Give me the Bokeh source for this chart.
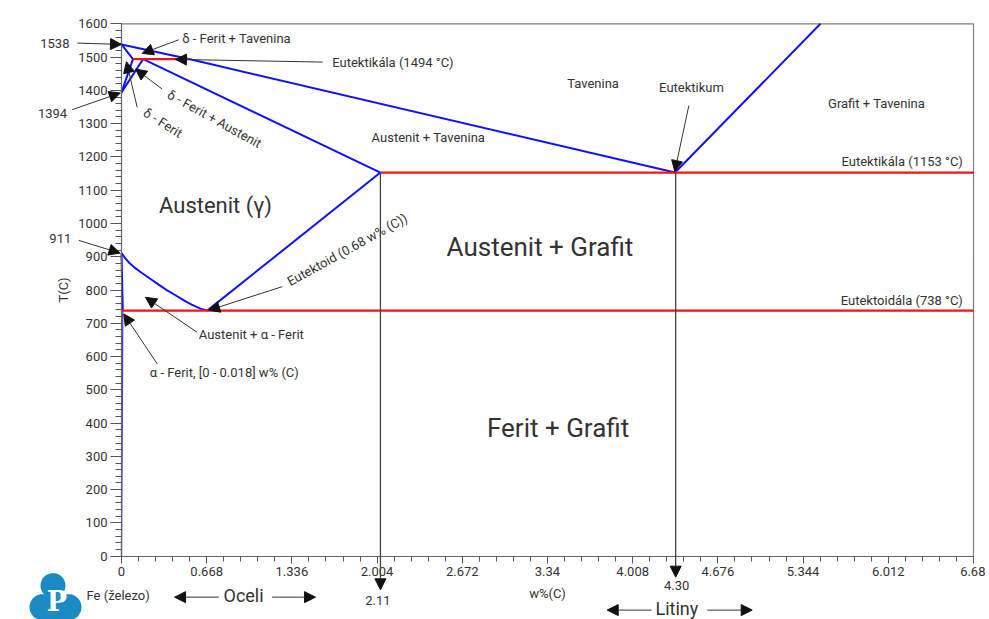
import math
from bokeh.plotting import figure
from bokeh.models import (Range1d, FixedTicker, Label, Arrow, NormalHead, PolyAnnotation,
                          LinearAxis)
from bokeh.embed import file_html
from bokeh.resources import INLINE

# ---------------- data (w% C, temperature °C) ----------------
liquidus_x = [0.0, 0.53, 4.34]
liquidus_t = [1538, 1494, 1153]
delta_solidus_x = [0.0, 0.09]
delta_solidus_t = [1538, 1494]
delta_solvus_x = [0.0, 0.09]
delta_solvus_t = [1394, 1494]
gamma_delta_x = [0.0, 0.17]
gamma_delta_t = [1394, 1494]
aust_solidus_x = [0.17, 2.03]
aust_solidus_t = [1494, 1153]
acm_x = [0.672, 2.03]
acm_t = [738, 1153]
a3_x = [0.0, 0.03, 0.06, 0.1, 0.16, 0.228, 0.3, 0.358, 0.42, 0.489, 0.55, 0.62, 0.672]
a3_t = [911, 895, 882, 868, 851, 833, 814, 799, 785, 769, 756, 744, 738]
alpha_upper_x = [0.0, 0.01]
alpha_upper_t = [911, 738]
alpha_lower_x = [0.01, 0.006, 0.0]
alpha_lower_t = [738, 400, 0]
graphite_liq_x = [4.34, 5.48]
graphite_liq_t = [1153, 1600]

peritectic_x = [0.09, 0.53]
peritectic_t = [1494, 1494]
eutectic_x = [2.03, 6.68]
eutectic_t = [1153, 1153]
eutectoid_x = [0.0, 6.68]
eutectoid_t = [738, 738]

x_ticks = [0, 0.668, 1.336, 2.004, 2.672, 3.34, 4.008, 4.676, 5.344, 6.012, 6.68]
x_tick_labels = ["0", "0.668", "1.336", "2.004", "2.672", "3.34", "4.008", "4.676", "5.344", "6.012", "6.68"]
y_ticks = [0, 100, 200, 300, 400, 500, 600, 700, 800, 900, 1000, 1100, 1200, 1300, 1400, 1500, 1600]

X_MAX = 6.68
T_MAX = 1600

# ---------------- layout geometry (pixels) ----------------
W, H = 985, 619
FRAME_L, FRAME_R, FRAME_T, FRAME_B = 121, 973, 23.3, 555.7
SX = (FRAME_R - FRAME_L) / X_MAX
SY = (FRAME_B - FRAME_T) / T_MAX

p = figure(width=W, height=H, title=None,
           x_range=Range1d(-FRAME_L / SX, (W - FRAME_L) / SX),
           y_range=Range1d(-(H - FRAME_B) / SY, T_MAX + FRAME_T / SY),
           x_axis_type=None, y_axis_type=None,
           output_backend="svg", toolbar_location=None, min_border=0)
p.outline_line_color = None
p.background_fill_color = "white"
p.border_fill_color = "white"

x_minor = [round(i * 0.1336, 4) for i in range(51)]
y_minor = list(range(0, 1601, 20))

xaxis = LinearAxis(fixed_location=0, bounds=(0, X_MAX),
                   ticker=FixedTicker(ticks=x_ticks, minor_ticks=x_minor))
xaxis.major_label_overrides = {float(v): s for v, s in zip(x_ticks, x_tick_labels)}
yaxis = LinearAxis(fixed_location=0, bounds=(0, T_MAX),
                   ticker=FixedTicker(ticks=y_ticks, minor_ticks=y_minor))

for ax in (xaxis, yaxis):
    ax.axis_line_color = "#666666"
    ax.axis_line_width = 1.2
    ax.major_tick_line_color = "#555555"
    ax.minor_tick_line_color = "#555555"
    ax.major_tick_in = 0
    ax.minor_tick_in = 0
    ax.major_label_text_font = "Roboto"
    ax.major_label_text_font_size = "13px"
    ax.major_label_text_color = "#333333"
    ax.axis_label_text_font = "Roboto"
    ax.axis_label_text_font_size = "13px"
    ax.axis_label_text_font_style = "normal"
    ax.axis_label_text_color = "#333333"

xaxis.major_tick_out = 7
xaxis.minor_tick_out = 5
xaxis.major_label_standoff = 4
xaxis.axis_label = "w%(C)"
xaxis.axis_label_standoff = 6
yaxis.major_tick_out = 11
yaxis.minor_tick_out = 6
yaxis.major_label_standoff = 3
yaxis.axis_label = "T(C)"
yaxis.axis_label_standoff = 4
p.add_layout(xaxis, "below")
p.add_layout(yaxis, "left")

# plot-area border (top and right)
p.line([0, X_MAX, X_MAX], [T_MAX, T_MAX, 0], line_color="#808080", line_width=1.2)

BLUE = "#1010ff"
RED = "#ff1010"
for xs, ts in [(liquidus_x, liquidus_t), (delta_solidus_x, delta_solidus_t),
               (delta_solvus_x, delta_solvus_t), (gamma_delta_x, gamma_delta_t),
               (aust_solidus_x, aust_solidus_t), (acm_x, acm_t), (a3_x, a3_t),
               (alpha_upper_x, alpha_upper_t), (graphite_liq_x, graphite_liq_t)]:
    p.line(xs, ts, line_color=BLUE, line_width=2)
p.line(alpha_lower_x, alpha_lower_t, line_color="#4040e0", line_width=1.3)
for xs, ts in [(peritectic_x, peritectic_t), (eutectic_x, eutectic_t), (eutectoid_x, eutectoid_t)]:
    p.line(xs, ts, line_color=RED, line_width=2.2)

# ---------------- annotations ----------------
TXT = "#333333"
labels = [
    # text, x, T, align, size, angle(deg)
    ("1538", -0.408, 1541, "right", 13, 0),
    ("1394", -0.426, 1331, "right", 13, 0),
    ("911", -0.394, 954, "right", 13, 0),
    ("δ - Ferit + Tavenina", 0.476, 1556, "left", 13, 0),
    ("Eutektikála (1494 °C)", 1.652, 1484, "left", 13, 0),
    ("δ - Ferit + Austenit", 0.729, 1314, "center", 13, -29),
    ("δ - Ferit", 0.325, 1302, "center", 13, -32),
    ("Tavenina", 3.697, 1420, "center", 13, 0),
    ("Eutektikum", 4.469, 1409, "center", 13, 0),
    ("Grafit + Tavenina", 5.92, 1361, "center", 13, 0),
    ("Austenit + Tavenina", 2.406, 1257, "center", 13, 0),
    ("Eutektikála (1153 °C)", 6.596, 1186, "right", 13, 0),
    ("Austenit (γ)", 0.737, 1054, "center", 22, 0),
    ("Austenit + Grafit", 3.281, 928, "center", 26, 0),
    ("Eutektoid (0.68 w% (C))", 1.77, 921, "center", 13, 29),
    ("Eutektoidála (738 °C)", 6.596, 768, "right", 13, 0),
    ("Austenit + α - Ferit", 0.606, 666, "left", 13, 0),
    ("α - Ferit, [0 - 0.018] w% (C)", 0.222, 553, "left", 13, 0),
    ("Ferit + Grafit", 3.423, 384, "center", 26, 0),
    ("Fe (železo)", -0.274, -118, "left", 13, 0),
    ("Oceli", 0.957, -118, "center", 18, 0),
    ("2.11", 2.01, -133, "center", 13, 0),
    ("4.30", 4.352, -88, "center", 13, 0),
    ("Litiny", 4.354, -156, "center", 18, 0),
]
for text, x, t, align, size, ang in labels:
    p.add_layout(Label(x=x, y=t, text=text, text_font="Roboto", text_font_size=f"{size}px",
                       text_color=TXT, text_align=align, text_baseline="middle",
                       angle=math.radians(ang)))

arrows = [
    # x_start, T_start, x_end, T_end
    (-0.345, 1542, 0.0, 1538),
    (-0.387, 1342, -0.01, 1392),
    (-0.335, 949, -0.012, 911),
    (0.449, 1552, 0.162, 1511),
    (1.576, 1485, 0.423, 1493),
    (0.319, 1404, 0.11, 1464),
    (0.123, 1349, 0.039, 1486),
    (4.448, 1354, 4.338, 1156),
    (1.26, 810, 0.684, 739),
    (0.593, 673, 0.188, 778),
    (0.28, 578, 0.018, 728),
    (0.763, -123, 0.416, -123),
    (1.181, -123, 1.521, -123),
    (4.155, -162, 3.808, -162),
    (4.592, -162, 4.945, -162),
]
for xs_, ts_, xe, te in arrows:
    p.add_layout(Arrow(end=NormalHead(size=11, fill_color="#111111", line_color="#111111"),
                       x_start=xs_, y_start=ts_, x_end=xe, y_end=te,
                       line_color="#333333", line_width=1))

# vertical marker lines at 2.11 and 4.30
for xv, tend in [(2.03, -101), (4.345, -63)]:
    p.add_layout(Arrow(end=NormalHead(size=11, fill_color="#111111", line_color="#111111"),
                       x_start=xv, y_start=1153, x_end=xv, y_end=tend,
                       line_color="#444444", line_width=1.3))

# ---------------- logo (decorative) ----------------
def circ(cx_px, cy_px, r):
    n = 40
    xs = [(cx_px + r * math.cos(2 * math.pi * i / n)) / SX for i in range(n)]
    ys = [-(cy_px + r * math.sin(2 * math.pi * i / n)) / SY for i in range(n)]
    return xs, ys
LOGO = "#1b8cc3"
for cx, cy, r in [(-68.5, 29.5, 12.5), (-79, 51, 13), (-53, 51, 13)]:
    xs, ys = circ(cx, cy, r)
    p.add_layout(PolyAnnotation(xs=xs, ys=ys, fill_color=LOGO, fill_alpha=1, line_alpha=0))
rx = [-79 / SX, -53 / SX, -53 / SX, -79 / SX]
ry = [-40 / SY, -40 / SY, -70 / SY, -70 / SY]
p.add_layout(PolyAnnotation(xs=rx, ys=ry, fill_color=LOGO, fill_alpha=1, line_alpha=0))
p.add_layout(Label(x=-64.5 / SX, y=-45 / SY, text="P", text_font="DejaVu Serif",
                   text_font_style="bold", text_font_size="27px", text_color="white",
                   text_align="center", text_baseline="middle"))

open("out.html", "w").write(file_html(p, INLINE))
